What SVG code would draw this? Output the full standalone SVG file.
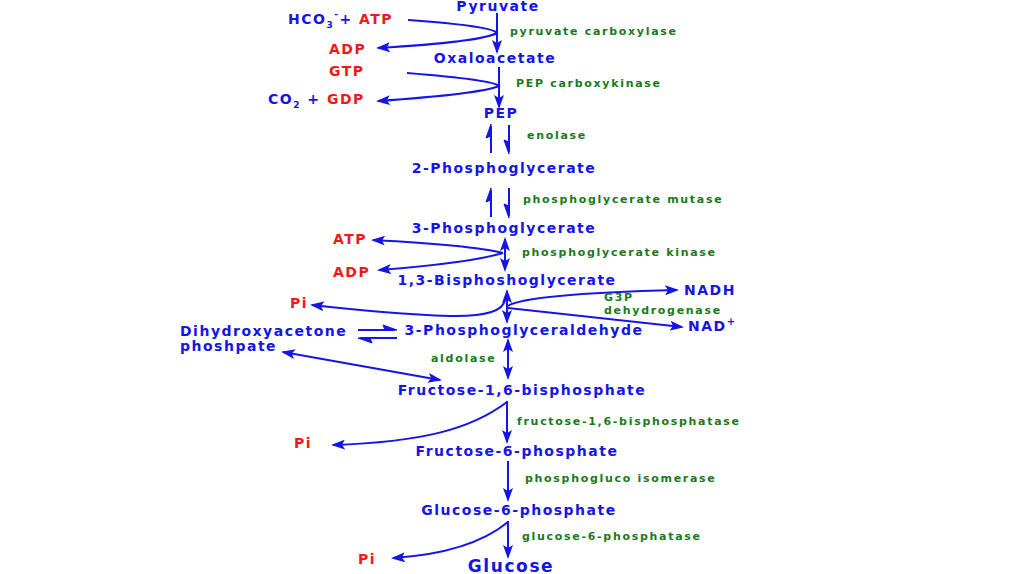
<svg xmlns="http://www.w3.org/2000/svg" width="1024" height="574" viewBox="0 0 1024 574">
<defs>
<style>
.m{font-family:"DejaVu Sans",Verdana,sans-serif;font-weight:bold;font-size:14px;fill:#1515e6;letter-spacing:1.5px}
.r{fill:#f01818}
.e{font-family:"DejaVu Sans",Verdana,sans-serif;font-weight:bold;font-size:11px;fill:#1a7a1a;letter-spacing:1.7px}
.c{fill:none;stroke:#1515e6;stroke-width:2}
</style>
<marker id="ah" markerUnits="userSpaceOnUse" markerWidth="14" markerHeight="10" refX="12" refY="5" orient="auto-start-reverse" viewBox="0 0 14 10">
<path d="M0,0 L14,5 L0,10 L3,5 Z" fill="#1515e6"/>
</marker>
</defs>
<rect width="1024" height="574" fill="#ffffff"/>

<g id="connectors">
<path class="c" d="M497,13 V52" marker-end="url(#ah)"/>
<path class="c" d="M408,20 Q492,26 497,33 Q480,42 378,48" marker-end="url(#ah)"/>
<path class="c" d="M499,67 V107" marker-end="url(#ah)"/>
<path class="c" d="M407,73 Q494,80 499,86 Q480,94 378,101" marker-end="url(#ah)"/>
<path class="c" d="M491,153 V126"/>
<path d="M491,124 L486,138 L491,136 Z" fill="#1515e6" stroke="#1515e6" stroke-width="1"/>
<path class="c" d="M509,125 V152"/>
<path d="M509,154 L504,140 L509,142 Z" fill="#1515e6" stroke="#1515e6" stroke-width="1"/>
<path class="c" d="M491,217 V190"/>
<path d="M491,188 L486,202 L491,200 Z" fill="#1515e6" stroke="#1515e6" stroke-width="1"/>
<path class="c" d="M509,188 V216"/>
<path d="M509,218 L504,204 L509,206 Z" fill="#1515e6" stroke="#1515e6" stroke-width="1"/>
<path class="c" d="M505,239 V270" marker-start="url(#ah)" marker-end="url(#ah)"/>
<path class="c" d="M503,253 Q470,245 373,240" marker-end="url(#ah)"/>
<path class="c" d="M503,253 Q470,263 379,270" marker-end="url(#ah)"/>
<path class="c" d="M507,291 V322" marker-start="url(#ah)" marker-end="url(#ah)"/>
<path class="c" d="M505,300 Q502,317 450,316 Q390,314 312,305" marker-end="url(#ah)"/>
<path class="c" d="M508,306 Q525,294 677,290" marker-end="url(#ah)"/>
<path class="c" d="M508,308 L682,327" marker-end="url(#ah)"/>
<path class="c" d="M358,330 H395"/>
<path d="M397,330 L383,325 L385,330 Z" fill="#1515e6" stroke="#1515e6" stroke-width="1"/>
<path class="c" d="M397,338 H360"/>
<path d="M358,338 L372,343 L370,338 Z" fill="#1515e6" stroke="#1515e6" stroke-width="1"/>
<path class="c" d="M283,352 L440,380" marker-start="url(#ah)" marker-end="url(#ah)"/>
<path class="c" d="M508,340 V378" marker-start="url(#ah)" marker-end="url(#ah)"/>
<path class="c" d="M507,401 V442" marker-end="url(#ah)"/>
<path class="c" d="M507,402 C470,430 420,442 333,445" marker-end="url(#ah)"/>
<path class="c" d="M508,461 V500" marker-end="url(#ah)"/>
<path class="c" d="M508,521 V557" marker-end="url(#ah)"/>
<path class="c" d="M508,522 C480,545 440,555 393,558" marker-end="url(#ah)"/>
</g>

<g id="pyruvate"><text class="m" x="498" y="11" text-anchor="middle">Pyruvate</text></g>
<g id="hco3-atp"><text class="m" x="288" y="24">HCO<tspan style="font-size:9px" dy="4">3</tspan><tspan style="font-size:9px" dy="-11">-</tspan><tspan dy="7">+ </tspan><tspan class="r">ATP</tspan></text></g>
<g id="e-pc"><text class="e" x="510" y="35">pyruvate carboxylase</text></g>
<g id="adp1"><text class="m r" x="329" y="54">ADP</text></g>
<g id="oxaloacetate"><text class="m" x="495" y="63" text-anchor="middle">Oxaloacetate</text></g>
<g id="gtp"><text class="m r" x="329" y="76">GTP</text></g>
<g id="e-pepck"><text class="e" x="516" y="87">PEP carboxykinase</text></g>
<g id="co2-gdp"><text class="m" x="268" y="104">CO<tspan style="font-size:9px" dy="4">2</tspan><tspan dy="-4"> + </tspan><tspan class="r">GDP</tspan></text></g>
<g id="pep"><text class="m" x="501" y="118" text-anchor="middle">PEP</text></g>
<g id="e-enolase"><text class="e" x="527" y="139">enolase</text></g>
<g id="pg2"><text class="m" x="504" y="173" text-anchor="middle">2-Phosphoglycerate</text></g>
<g id="e-pgm"><text class="e" x="523" y="203">phosphoglycerate mutase</text></g>
<g id="pg3"><text class="m" x="504" y="233" text-anchor="middle">3-Phosphoglycerate</text></g>
<g id="atp2"><text class="m r" x="333" y="244">ATP</text></g>
<g id="e-pgk"><text class="e" x="522" y="256">phosphoglycerate kinase</text></g>
<g id="adp2"><text class="m r" x="333" y="277">ADP</text></g>
<g id="bpg"><text class="m" x="507" y="285" text-anchor="middle">1,3-Bisphoshoglycerate</text></g>
<g id="nadh"><text class="m" x="684" y="295">NADH</text></g>
<g id="pi1"><text class="m r" x="290" y="308">Pi</text></g>
<g id="e-g3pdh"><text class="e" x="604" y="301">G3P</text><text class="e" x="604" y="314">dehydrogenase</text></g>
<g id="nad"><text class="m" x="688" y="331">NAD<tspan style="font-size:10px" dy="-6">+</tspan></text></g>
<g id="dhap"><text class="m" x="180" y="336">Dihydroxyacetone</text><text class="m" x="180" y="351">phoshpate</text></g>
<g id="pgal"><text class="m" x="524" y="335" text-anchor="middle">3-Phosphoglyceraldehyde</text></g>
<g id="e-aldolase"><text class="e" x="431" y="362">aldolase</text></g>
<g id="f16bp"><text class="m" x="522" y="395" text-anchor="middle">Fructose-1,6-bisphosphate</text></g>
<g id="e-fbpase"><text class="e" x="517" y="425">fructose-1,6-bisphosphatase</text></g>
<g id="pi2"><text class="m r" x="294" y="448">Pi</text></g>
<g id="f6p"><text class="m" x="517" y="456" text-anchor="middle">Fructose-6-phosphate</text></g>
<g id="e-pgi"><text class="e" x="525" y="482">phosphogluco isomerase</text></g>
<g id="g6p"><text class="m" x="519" y="515" text-anchor="middle">Glucose-6-phosphate</text></g>
<g id="e-g6pase"><text class="e" x="522" y="540">glucose-6-phosphatase</text></g>
<g id="pi3"><text class="m r" x="358" y="564">Pi</text></g>
<g id="glucose"><text class="m" x="511" y="572" text-anchor="middle" style="font-size:17px;letter-spacing:1.6px">Glucose</text></g>
</svg>
